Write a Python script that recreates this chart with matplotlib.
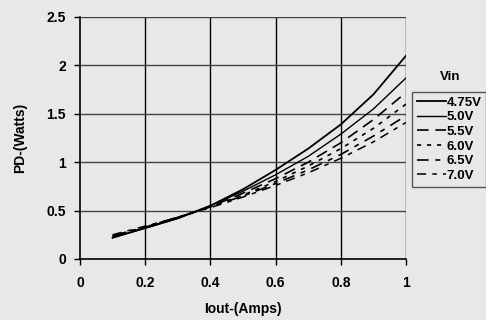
import matplotlib
matplotlib.use("Agg")
import matplotlib.pyplot as plt

iout = [0.1, 0.2, 0.3, 0.4, 0.5, 0.6, 0.7, 0.8, 0.9, 1.0]
pd_475 = [0.22, 0.32, 0.42, 0.55, 0.72, 0.92, 1.14, 1.39, 1.70, 2.10]
pd_50 = [0.22, 0.32, 0.42, 0.55, 0.70, 0.87, 1.06, 1.29, 1.55, 1.87]
pd_55 = [0.23, 0.32, 0.43, 0.54, 0.68, 0.83, 1.00, 1.20, 1.44, 1.72]
pd_60 = [0.24, 0.33, 0.43, 0.54, 0.66, 0.80, 0.96, 1.14, 1.35, 1.60]
pd_65 = [0.24, 0.33, 0.43, 0.54, 0.65, 0.78, 0.92, 1.08, 1.27, 1.48]
pd_70 = [0.25, 0.34, 0.43, 0.53, 0.64, 0.76, 0.89, 1.04, 1.21, 1.41]
labels = ["4.75V", "5.0V", "5.5V", "6.0V", "6.5V", "7.0V"]
xticks = [0, 0.2, 0.4, 0.6, 0.8, 1]
xticklabels = ["0", "0.2", "0.4", "0.6", "0.8", "1"]
yticks = [0, 0.5, 1, 1.5, 2, 2.5]
yticklabels = ["0", "0.5", "1", "1.5", "2", "2.5"]

plt.rcParams['font.family'] = ['Liberation Sans', 'DejaVu Sans']
plt.rcParams['font.weight'] = 'bold'

bg = '#e8e8e8'
W, H = 486.0, 320.0
fig = plt.figure(figsize=(4.86, 3.2), dpi=100, facecolor=bg)
ax = fig.add_axes([80 / W, 1 - 259 / H, 326 / W, 242 / H], facecolor=bg)

series = [pd_475, pd_50, pd_55, pd_60, pd_65, pd_70]
styles = [
    dict(linestyle='-', linewidth=1.3),
    dict(linestyle='-', linewidth=1.0),
    dict(linestyle=(0, (7, 4)), linewidth=1.2),
    dict(linestyle=(0, (2.5, 3.5)), linewidth=1.2),
    dict(linestyle=(0, (7, 4, 3, 4)), linewidth=1.2),
    dict(linestyle=(0, (6, 4, 3, 4)), linewidth=1.1),
]
for ys, lab, st in zip(series, labels, styles):
    ax.plot(iout, ys, color='black', label=lab, **st)

ax.set_xlim(0, 1)
ax.set_ylim(0, 2.5)
ax.set_xticks(xticks)
ax.set_xticklabels(xticklabels)
ax.set_yticks(yticks)
ax.set_yticklabels(yticklabels)
for x in xticks[1:]:
    ax.axvline(x, color='black', linewidth=1.0, zorder=0.5)
for y in yticks[1:]:
    ax.axhline(y, color='#444444', linewidth=1.0, zorder=0.5)

for s in ['top', 'right']:
    ax.spines[s].set_visible(False)
for s in ['left', 'bottom']:
    ax.spines[s].set_linewidth(1.2)
ax.tick_params(axis='both', direction='out', length=4, width=1.0, labelsize=10, pad=6)
ax.tick_params(axis='x', pad=8)
for t in ax.get_xticklabels() + ax.get_yticklabels():
    t.set_fontweight('bold')

ax.set_xlabel('Iout-(Amps)', fontsize=10, fontweight='bold', labelpad=9)
ax.set_ylabel('PD-(Watts)', fontsize=10, fontweight='bold', labelpad=14)

handles, labs = ax.get_legend_handles_labels()
leg = fig.legend(handles, labs, loc='upper left',
                 bbox_to_anchor=(412 / W, 1 - 185 / H, 74 / W, 93 / H), mode='expand',
                 frameon=True, fancybox=False, edgecolor='#555555', facecolor=bg,
                 framealpha=1, fontsize=9.5, handlelength=2.2, handletextpad=0.05,
                 labelspacing=0.18, borderpad=0.35, borderaxespad=0)
leg.get_frame().set_linewidth(1.0)
for t in leg.get_texts():
    t.set_fontweight('bold')
fig.text(450 / W, 1 - 77 / H, 'Vin', fontsize=9.5, fontweight='bold', ha='center', va='center')

fig.savefig('out.png', dpi=100, facecolor=bg)
